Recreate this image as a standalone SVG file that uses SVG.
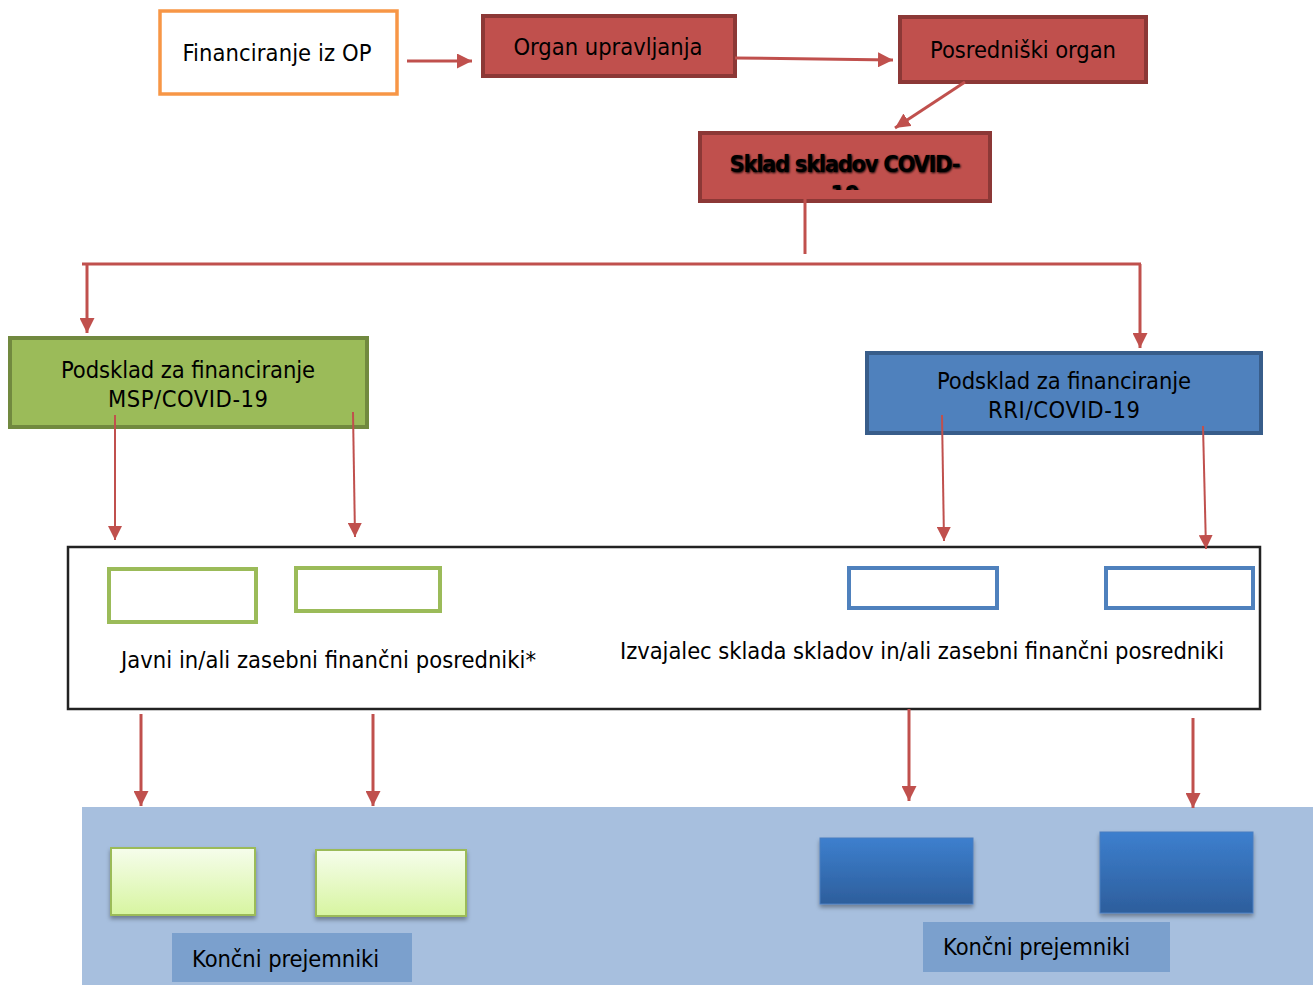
<svg xmlns="http://www.w3.org/2000/svg" width="1313" height="985" viewBox="0 0 1313 985">
<defs>
<style>
text{font-family:"DejaVu Sans Condensed","DejaVu Sans",sans-serif;font-size:23.5px;fill:#000}
.c{text-anchor:middle}
.b{font-weight:bold}
.red{fill:#C0504D;stroke:#8C3836;stroke-width:4}
.con{stroke:#C0504D;stroke-width:3;fill:none}
.thin{stroke:#C0504D;stroke-width:2;fill:none}
</style>
<marker id="ah" viewBox="0 0 10 10" refX="10" refY="5" markerWidth="5" markerHeight="5" markerUnits="strokeWidth" orient="auto"><path d="M0,0 L10,5 L0,10 z" fill="#C0504D"/></marker>
<marker id="ah2" viewBox="0 0 10 10" refX="10" refY="5" markerWidth="7" markerHeight="7" markerUnits="strokeWidth" orient="auto"><path d="M0,0 L10,5 L0,10 z" fill="#C0504D"/></marker>
<linearGradient id="gg" x1="0" y1="0" x2="0" y2="1"><stop offset="0" stop-color="#F6FDEC"/><stop offset="1" stop-color="#D7F5A0"/></linearGradient>
<linearGradient id="bg" x1="0" y1="0" x2="0" y2="1"><stop offset="0" stop-color="#3D7FCE"/><stop offset="1" stop-color="#2D5E9C"/></linearGradient>
<filter id="sh" x="-10%" y="-10%" width="130%" height="140%"><feDropShadow dx="0" dy="3" stdDeviation="2" flood-color="#000" flood-opacity="0.35"/></filter>
<filter id="tsh" x="-5%" y="-30%" width="110%" height="160%"><feGaussianBlur stdDeviation="1.2"/></filter>
<clipPath id="skc"><rect x="702" y="135" width="286" height="55"/></clipPath>
</defs>
<rect width="1313" height="985" fill="#fff"/>
<g id="bottom-bg"><rect x="82" y="807" width="1231" height="178" fill="#A7BFDE"/></g>
<g id="financiranje"><rect x="160" y="11" width="237" height="83" fill="#fff" stroke="#F79646" stroke-width="3.5"/><text class="c" x="277" y="61" textLength="189">Financiranje iz OP</text></g>
<g id="organ"><rect class="red" x="483" y="16" width="252" height="60"/><text class="c" x="608" y="55" textLength="189">Organ upravljanja</text></g>
<g id="posredniski"><rect class="red" x="900" y="17" width="246" height="65"/><text class="c" x="1023" y="58" textLength="186">Posredniški organ</text></g>
<g id="sklad"><rect class="red" x="700" y="133" width="290" height="68"/>
<g clip-path="url(#skc)"><g filter="url(#tsh)"><text class="c b" x="846" y="173" textLength="231">Sklad skladov COVID-</text><text class="c b" x="846" y="203">19</text></g>
<text class="c b" x="845" y="172" textLength="231">Sklad skladov COVID-</text><text class="c b" x="845" y="202">19</text></g></g>
<g id="msp"><rect x="10" y="338" width="357" height="89" fill="#9BBB59" stroke="#71893F" stroke-width="4"/><text class="c" x="188" y="378" textLength="254">Podsklad za financiranje</text><text class="c" x="188" y="407" textLength="160">MSP/COVID-19</text></g>
<g id="rri"><rect x="867" y="353" width="394" height="80" fill="#4F81BD" stroke="#385D8A" stroke-width="4"/><text class="c" x="1064" y="389" textLength="254">Podsklad za financiranje</text><text class="c" x="1064" y="418" textLength="152">RRI/COVID-19</text></g>
<g id="posredniki"><rect x="68" y="547" width="1192" height="162" fill="#fff" stroke="#222" stroke-width="2.5"/>
<rect x="109" y="569" width="147" height="53" fill="#fff" stroke="#9BBB59" stroke-width="4"/>
<rect x="296" y="568" width="144" height="43" fill="#fff" stroke="#9BBB59" stroke-width="4"/>
<rect x="849" y="568" width="148" height="40" fill="#fff" stroke="#4F81BD" stroke-width="4"/>
<rect x="1106" y="568" width="147" height="40" fill="#fff" stroke="#4F81BD" stroke-width="4"/>
<text x="121" y="668" textLength="415">Javni in/ali zasebni finančni posredniki*</text>
<text x="620" y="659" textLength="604">Izvajalec sklada skladov in/ali zasebni finančni posredniki</text></g>
<g id="prejemniki-msp"><rect x="111" y="848" width="144" height="67" fill="url(#gg)" stroke="#9BBB59" stroke-width="2" filter="url(#sh)"/><rect x="316" y="850" width="150" height="66" fill="url(#gg)" stroke="#9BBB59" stroke-width="2" filter="url(#sh)"/>
<rect x="172" y="933" width="240" height="49" fill="#7BA0CD"/><text x="192" y="967" textLength="187">Končni prejemniki</text></g>
<g id="prejemniki-rri"><rect x="820" y="838" width="153" height="66" fill="url(#bg)" stroke="#4A7EC0" stroke-width="1" filter="url(#sh)"/><rect x="1100" y="832" width="153" height="81" fill="url(#bg)" stroke="#4A7EC0" stroke-width="1" filter="url(#sh)"/>
<rect x="923" y="922" width="247" height="50" fill="#7BA0CD"/><text x="943" y="955" textLength="187">Končni prejemniki</text></g>
<g id="connectors">
<path class="con" d="M407,61 H472" marker-end="url(#ah)"/>
<path class="con" d="M735,58 L893,60" marker-end="url(#ah)"/>
<path class="con" d="M965,82 L895,128" marker-end="url(#ah)"/>
<path class="con" d="M805,198 V254"/>
<path class="con" d="M82,264 H1141"/>
<path class="con" d="M87,264 V333" marker-end="url(#ah)"/>
<path class="con" d="M1140,264 V348" marker-end="url(#ah)"/>
<path class="thin" d="M115,415 V540" marker-end="url(#ah2)"/>
<path class="thin" d="M353,412 L355,537" marker-end="url(#ah2)"/>
<path class="thin" d="M942,415 L944,541" marker-end="url(#ah2)"/>
<path class="thin" d="M1203,426 L1206,549" marker-end="url(#ah2)"/>
<path class="con" d="M141,714 V806" marker-end="url(#ah)"/>
<path class="con" d="M373,714 V806" marker-end="url(#ah)"/>
<path class="con" d="M909,709 V801" marker-end="url(#ah)"/>
<path class="con" d="M1193,718 V808" marker-end="url(#ah)"/>
</g>
</svg>
